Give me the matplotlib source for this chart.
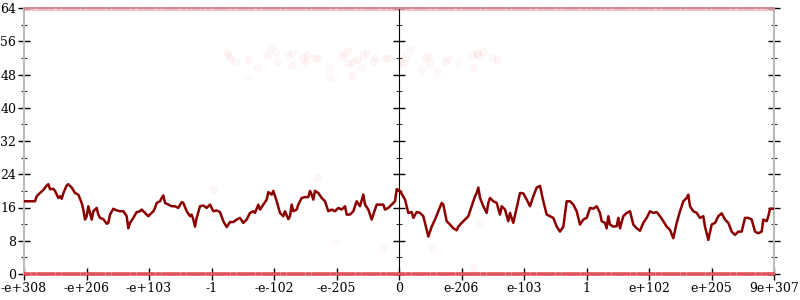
import matplotlib
matplotlib.use("Agg")
import matplotlib.pyplot as plt
from matplotlib.ticker import NullFormatter
from matplotlib.patches import Rectangle

# ---------------- data ----------------
tick_pos = [-6, -5, -4, -3, -2, -1, 0, 1, 2, 3, 4, 5, 6]
tick_labels = ["-e+308", "-e+206", "-e+103", "-1", "-e-102", "-e-205", "0",
               "e-206", "e-103", "1", "e+102", "e+205", "9e+307"]
y_ticks = [0, 8, 16, 24, 32, 40, 48, 56, 64]
y_minor = [4, 12, 20, 28, 36, 44, 52, 60]

line_x = [
    -6.0, -5.824, -5.797, -5.744, -5.691, -5.637, -5.611, -5.584, -5.531, -5.504,
    -5.451, -5.424, -5.397, -5.371, -5.317, -5.291, -5.237, -5.184, -5.131, -5.077,
    -5.051, -5.024, -4.997, -4.971, -4.944, -4.917, -4.891, -4.837, -4.811, -4.784,
    -4.731, -4.677, -4.651, -4.624, -4.571, -4.517, -4.464, -4.411, -4.357, -4.331,
    -4.304, -4.251, -4.197, -4.144, -4.117, -4.064, -4.011, -3.984, -3.931, -3.904,
    -3.877, -3.824, -3.797, -3.771, -3.744, -3.691, -3.637, -3.584, -3.531, -3.477,
    -3.451, -3.397, -3.344, -3.317, -3.291, -3.264, -3.237, -3.184, -3.131, -3.077,
    -3.024, -2.971, -2.917, -2.864,
    -2.811, -2.757, -2.704, -2.651, -2.597, -2.544, -2.491, -2.437, -2.384, -2.331,
    -2.304, -2.251, -2.224, -2.171, -2.117, -2.091, -2.037, -2.011, -1.957, -1.904,
    -1.851, -1.824, -1.771, -1.744, -1.717, -1.691, -1.637, -1.611, -1.557, -1.504,
    -1.451, -1.424, -1.397, -1.371, -1.344, -1.291, -1.237, -1.184, -1.131, -1.077,
    -1.024, -0.971, -0.917, -0.864, -0.837, -0.784, -0.731, -0.677, -0.624, -0.571,
    -0.544, -0.491, -0.437, -0.411, -0.357, -0.304, -0.251, -0.224, -0.171, -0.117,
    -0.064, -0.037, 0.016,
    0.096, 0.149, 0.203, 0.229, 0.283, 0.336, 0.389, 0.416, 0.469, 0.523,
    0.576, 0.629, 0.683, 0.709, 0.763, 0.816, 0.869, 0.923, 0.949, 1.003,
    1.056, 1.109, 1.163, 1.216, 1.243, 1.269, 1.296, 1.349, 1.403, 1.429,
    1.456, 1.509, 1.563, 1.616, 1.643, 1.696, 1.749, 1.776, 1.829, 1.883,
    1.936, 1.989, 2.043, 2.096, 2.149, 2.203, 2.256, 2.309, 2.363, 2.416,
    2.469, 2.523, 2.576, 2.629, 2.683, 2.736, 2.789, 2.843, 2.896, 2.949,
    3.003, 3.056, 3.109, 3.163, 3.216,
    3.243, 3.296, 3.323, 3.349, 3.376, 3.429, 3.483, 3.509, 3.536, 3.589,
    3.643, 3.696, 3.749, 3.803, 3.856, 3.909, 3.963, 4.016, 4.069, 4.123,
    4.176, 4.229, 4.283, 4.336, 4.389, 4.443, 4.496, 4.549, 4.603, 4.629,
    4.656, 4.709, 4.763, 4.816, 4.869, 4.896, 4.949, 5.003, 5.056, 5.109,
    5.163, 5.216, 5.269, 5.323, 5.376, 5.429, 5.483, 5.536, 5.589, 5.643,
    5.696, 5.749, 5.803, 5.829, 5.883, 5.909, 5.936, 6.0,
]
line_y = [
    17.5, 17.5, 18.7, 19.5, 20.2, 21.3, 21.6, 20.4, 20.5, 20.0,
    18.3, 18.7, 18.1, 19.4, 21.3, 21.6, 20.8, 19.5, 19.1, 17.1,
    15.5, 13.1, 13.9, 16.3, 14.7, 13.1, 15.1, 15.9, 14.3, 13.5,
    13.2, 12.1, 12.3, 14.3, 15.7, 15.3, 15.1, 15.1, 13.9, 11.0,
    12.3, 13.5, 14.9, 15.1, 15.5, 14.7, 13.9, 14.3, 15.1, 15.9,
    17.1, 17.5, 18.3, 18.9, 17.1, 16.7, 16.3, 16.3, 15.9, 17.3,
    17.1, 15.1, 13.9, 14.3, 13.1, 11.4, 13.5, 16.3, 16.5, 15.9,
    16.7, 15.1, 15.3, 14.9,
    12.7, 11.3, 12.5, 12.5, 13.1, 13.5, 12.3, 13.1, 14.7, 15.1,
    14.7, 16.7, 15.5, 16.7, 17.9, 19.7, 19.1, 20.0, 17.5, 14.7,
    13.9, 15.1, 13.2, 13.9, 16.7, 15.1, 15.5, 16.7, 18.3, 18.5,
    18.5, 20.0, 19.1, 17.9, 20.0, 19.5, 18.3, 17.5, 15.1, 15.5,
    15.1, 15.9, 15.5, 16.3, 14.3, 14.3, 15.1, 17.5, 16.3, 19.1,
    16.7, 15.5, 13.1, 14.3, 16.7, 16.7, 16.7, 15.5, 15.9, 16.7,
    17.5, 20.4, 20.0,
    17.9, 14.7, 14.9, 13.5, 14.9, 14.7, 13.9, 12.3, 9.0, 11.4,
    13.1, 15.1, 17.1, 16.7, 12.7, 11.9, 11.0, 10.5, 11.4, 12.3,
    13.1, 13.9, 16.3, 18.7, 19.5, 20.8, 18.3, 16.3, 14.7, 17.1,
    18.3, 17.5, 17.1, 14.3, 16.3, 15.5, 12.7, 14.7, 12.3, 15.9,
    19.5, 19.4, 17.9, 16.3, 18.7, 20.8, 21.2, 17.5, 14.3, 13.9,
    13.5, 11.4, 10.2, 11.4, 17.5, 17.5, 16.7, 15.1, 11.9, 13.1,
    13.5, 15.9, 15.7, 16.3, 14.7,
    12.7, 12.3, 11.0, 13.9, 11.9, 11.4, 11.5, 13.5, 11.0, 13.9,
    14.7, 15.1, 11.9, 11.0, 10.4, 12.3, 13.5, 15.1, 14.7, 14.9,
    13.9, 12.7, 11.4, 10.6, 8.6, 12.3, 15.1, 17.5, 18.3, 19.1,
    16.3, 15.1, 14.7, 13.5, 13.9, 11.4, 8.2, 11.9, 12.3, 13.9,
    14.6, 13.1, 12.3, 10.2, 9.4, 10.2, 10.2, 13.5, 13.5, 13.1,
    10.2, 9.8, 10.2, 13.1, 12.7, 13.9, 15.7, 15.7,
]

# faint scatter: rows of points at y = 0 and y = 64
row_x = [
    -6.0, -5.9, -5.8, -5.7, -5.6, -5.5, -5.4, -5.3, -5.2, -5.1,
    -5.0, -4.9, -4.8, -4.7, -4.6, -4.5, -4.4, -4.3, -4.2, -4.1,
    -4.0, -3.9, -3.8, -3.7, -3.6, -3.5, -3.4, -3.3, -3.2, -3.1,
    -3.0, -2.9, -2.8, -2.7, -2.6, -2.5, -2.4, -2.3, -2.2, -2.1,
    -2.0, -1.9, -1.8, -1.7, -1.6, -1.5, -1.4, -1.3, -1.2, -1.1,
    -1.0, -0.9, -0.8, -0.7, -0.6, -0.5, -0.4, -0.3, -0.2, -0.1,
    0.0, 0.1, 0.2, 0.3, 0.4, 0.5, 0.6, 0.7, 0.8, 0.9,
    1.0, 1.1, 1.2, 1.3, 1.4, 1.5, 1.6, 1.7, 1.8, 1.9,
    2.0, 2.1, 2.2, 2.3, 2.4, 2.5, 2.6, 2.7, 2.8, 2.9,
    3.0, 3.1, 3.2, 3.3, 3.4, 3.5, 3.6, 3.7, 3.8, 3.9,
    4.0, 4.1, 4.2, 4.3, 4.4, 4.5, 4.6, 4.7, 4.8, 4.9,
    5.0, 5.1, 5.2, 5.3, 5.4, 5.5, 5.6, 5.7, 5.8, 5.9, 6.0,
]
row_low_y = 0
row_high_y = 63.7

# faint scattered points (band near 48-56 plus a few isolated ones)
pts_x = [
    -2.757, -2.731, -2.704, -2.624, -2.411, -2.251, -2.437, -2.117, -2.064, -1.984,
    -1.957, -1.771, -1.717, -1.717, -1.531, -1.477, -1.504, -1.344, -1.291, -1.104,
    -1.104, -0.917, -0.891, -0.811, -0.811, -0.757, -0.731, -0.677, -0.597, -0.571,
    -0.517, -0.411, -0.384, -0.224, -0.171, 0.016, 0.069, 0.096, 0.176, 0.363,
    0.416, 0.469, 0.496, 0.603, 0.736, 0.763, 0.949, 1.163, 1.189, 1.243,
    1.269, 1.349, 1.483, 1.563,
    -1.024, -0.277, 0.549, 1.189, -2.971, -1.317, 1.296,
]
pts_y = [
    53.5, 52.7, 51.9, 51.1, 51.5, 49.5, 47.5, 52.7, 54.3, 53.3,
    51.1, 52.7, 53.1, 50.3, 51.9, 52.7, 51.1, 51.9, 51.9, 49.5,
    47.5, 52.3, 53.1, 53.7, 50.7, 47.9, 51.1, 51.5, 49.5, 52.7,
    53.1, 51.1, 51.9, 51.9, 51.9, 51.1, 50.7, 52.3, 53.9, 49.1,
    51.9, 52.5, 50.7, 48.7, 51.1, 51.9, 50.7, 52.7, 49.9, 53.1,
    52.7, 53.5, 51.9, 51.5,
    7.8, 6.2, 6.2, 1.4, 20.2, 23.4, 12.6,
]

# ---------------- figure ----------------
plt.rcParams["font.family"] = ["DejaVu Serif"]
fig = plt.figure(figsize=(8, 3), dpi=100)
ax = fig.add_axes([24 / 800, 26 / 300, 750 / 800, 266 / 300])

pt_color = "#e8232d"
# wide flat marker so the dense rows read as a continuous stripe
flat = [(-1.0, -0.3), (1.0, -0.3), (1.0, 0.3), (-1.0, 0.3), (-1.0, -0.3)]
clip_rect = Rectangle((0, -0.05), 1, 1.1, transform=ax.transAxes,
                      facecolor="none", edgecolor="none")
ax.add_patch(clip_rect)
low = ax.scatter(row_x, [row_low_y] * len(row_x), s=81, marker=flat,
                 color=pt_color, alpha=0.42, linewidths=0, zorder=5)
high = ax.scatter(row_x, [row_high_y] * len(row_x), s=81, marker=flat,
                  color=pt_color, alpha=0.16, linewidths=0, zorder=5)
for coll in (low, high):
    coll.set_clip_path(clip_rect)
ax.scatter(pts_x, pts_y, s=26, facecolor=pt_color, edgecolor=pt_color,
           alpha=0.03, linewidths=0.8, zorder=2)

ax.plot(line_x, line_y, color="#8b0000", lw=1.8, zorder=4, solid_joinstyle="round")

ax.set_xlim(-6, 6)
ax.set_ylim(0, 64)

spine_col = "#bbbbbb"
for s in ax.spines.values():
    s.set_color(spine_col)
    s.set_linewidth(1.5)

ax.set_xticks(tick_pos)
ax.set_xticklabels(tick_labels)
ax.set_yticks(y_ticks)
ax.set_yticks(y_minor, minor=True)
ax.tick_params(axis="x", which="major", direction="inout", length=8, width=1,
               color="black", labelsize=9, pad=2, top=False)
ax.tick_params(axis="y", which="major", direction="inout", length=8, width=1,
               color="black", labelsize=9, pad=1.5, left=True, right=True,
               labelright=False)
ax.tick_params(axis="y", which="minor", direction="inout", length=4.5, width=0.8,
               color="#333333", left=True, right=True)

# central vertical axis at x = 0 (ticks only, no labels)
cax = ax.secondary_yaxis(0.5)
cax.set_yticks(y_ticks)
cax.set_yticks(y_minor, minor=True)
cax.yaxis.set_major_formatter(NullFormatter())
cax.yaxis.set_minor_formatter(NullFormatter())
cax.spines["left"].set_color(spine_col)
cax.spines["left"].set_linewidth(1.5)
cax.tick_params(axis="y", which="major", direction="inout", length=8, width=1,
                color="black", labelleft=False, labelright=False)
cax.tick_params(axis="y", which="minor", direction="inout", length=4.5, width=0.8,
                color="#333333")

fig.savefig("out.png", dpi=100)
